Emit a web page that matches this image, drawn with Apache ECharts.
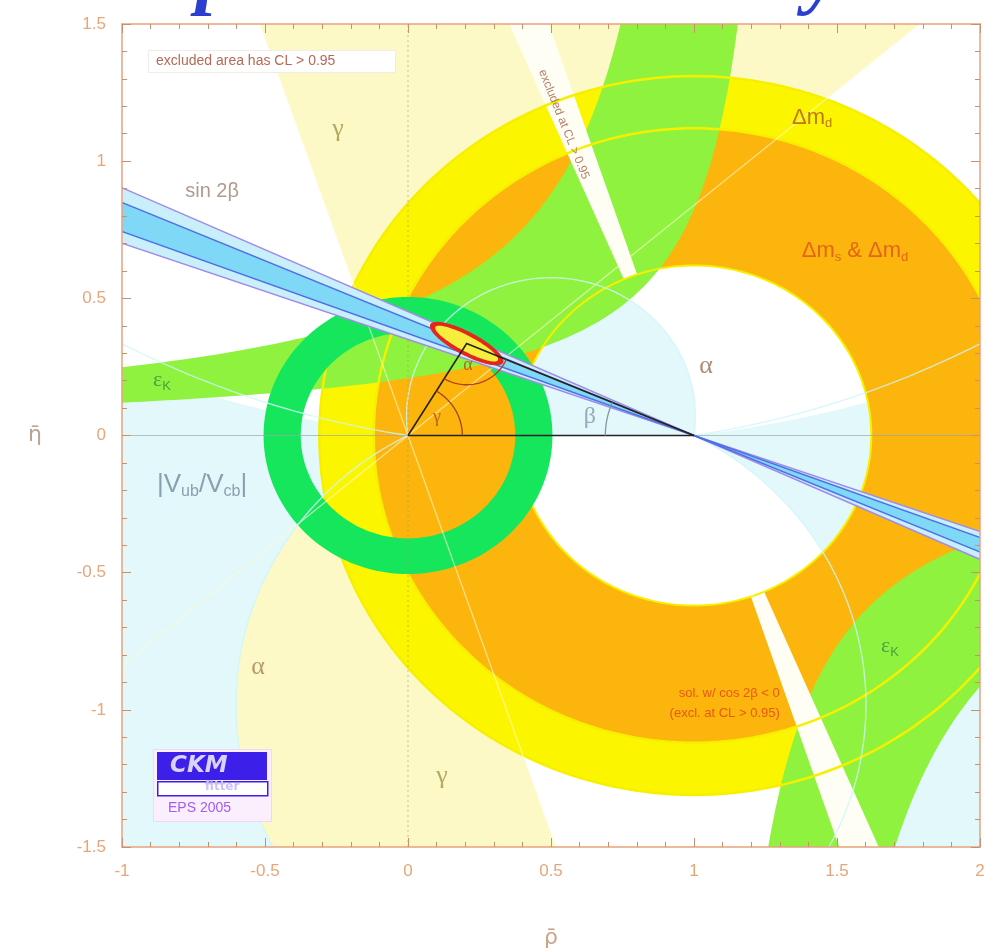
<!DOCTYPE html>
<html>
<head>
<meta charset="utf-8">
<title>CKM unitarity triangle</title>
<script src="https://cdn.jsdelivr.net/npm/echarts/dist/echarts.min.js"></script>
<style>
html,body{margin:0;padding:0;background:#fff;}
#chart{width:996px;height:948px;}
</style>
</head>
<body>
<div id="chart"></div>
<script>
// ---------- constraints in the (rho-bar, eta-bar) plane ----------
const rhoRange = [-1, 2];
const etaRange = [-1.5, 1.5];
const tickStep = 0.5;

// Delta m_d and Delta m_s & Delta m_d rings around (1,0): [inner, outer]
const dmdRing = [1.12, 1.31];
const dmsRing = [0.62, 1.12];
// |Vub/Vcb| ring around (0,0)
const vubRing = [0.375, 0.505];
// gamma wedges seen from (0,0), degrees
const gammaWedges = [[40, 109], [220, 289]];
// alpha bands (apex angle, degrees) above and below the rho axis
const alphaBandsUp = [[0, 7], [82, 180]];
const alphaBandsDown = [[0, 27]];
// sin 2beta: beta bounds in degrees (2s low, 1s low, 1s high, 2s high)
const betaBounds = [19.3, 20.4, 23.0, 24.3];
// cos 2beta < 0 solution, direction from (1,0), degrees
const betaPrimeWedge = [108.7, 113.3];
// epsilon_K band edges, eta = k / (rho0 - rho): [rho0, k]
const epsKUpArm = [[1.09, 0.52], [1.34, 0.28]];
const epsKDownArm = [[1.008, 0.377], [1.238, 0.697]];
// contour lines of the gamma and alpha constraints
const gammaLines = [40, 109, 220, 289];
const alphaLinesUp = [9, 82];
const alphaLinesDown = [27];
// global fit
const apex = [0.205, 0.335];
const fitOuter = [0.145, 0.042];
const fitInner = [0.125, 0.028];
const fitTilt = -29;

// ---------- geometry helpers (data space) ----------
const D2R = Math.PI / 180;
function ray(o, deg, r) { return [o[0] + r * Math.cos(deg * D2R), o[1] + r * Math.sin(deg * D2R)]; }
function arcPts(o, r, a0, a1, n) {
  const pts = [];
  for (let i = 0; i <= n; i++) pts.push(ray(o, a0 + (a1 - a0) * i / n, r));
  return pts;
}
function wedge(o, a0, a1, r0, r1) {
  if (!r0) return [o].concat(arcPts(o, r1, a0, a1, 40));
  return arcPts(o, r0, a0, a1, 40).concat(arcPts(o, r1, a1, a0, 40));
}
// boundary of constant apex angle t (deg) from (0,0) to (1,0), side s = +1 / -1
function alphaArc(t, s) {
  if (t <= 0) return [[0, 0], [-20, 0], [-20, 20 * s], [20, 20 * s], [20, 0], [1, 0]];
  if (t >= 180) return [[0, 0], [1, 0]];
  const tr = t * D2R, cy = s * 0.5 / Math.tan(tr), r = 0.5 / Math.sin(tr);
  let f0 = Math.atan2(-cy, -0.5), f1 = Math.atan2(-cy, 0.5);
  if (s > 0) { while (f1 >= f0) f1 -= 2 * Math.PI; } else { while (f1 <= f0) f1 += 2 * Math.PI; }
  const pts = [], n = 240;
  for (let i = 0; i <= n; i++) {
    const f = f0 + (f1 - f0) * i / n;
    pts.push([0.5 + r * Math.cos(f), cy + r * Math.sin(f)]);
  }
  return pts;
}
function alphaRegion(band, s) {
  return alphaArc(band[0], s).concat(alphaArc(band[1], s).slice().reverse());
}
function epsUpper(h, etaLo, etaHi) {
  const pts = [], n = 160;
  for (let i = 0; i <= n; i++) {
    const e = etaLo * Math.pow(etaHi / etaLo, i / n);
    pts.push([h[0] - h[1] / e, e]);
  }
  return pts;
}
function epsLower(h, etaLo, etaHi) {
  const pts = [], n = 160;
  for (let i = 0; i <= n; i++) {
    const e = etaLo * Math.pow(etaHi / etaLo, i / n);
    pts.push([h[0] + h[1] / e, -e]);
  }
  return pts;
}
function ellipse(c, ab, tilt) {
  const pts = [], ct = Math.cos(tilt * D2R), st = Math.sin(tilt * D2R);
  for (let i = 0; i <= 120; i++) {
    const t = 2 * Math.PI * i / 120, x = ab[0] * Math.cos(t), y = ab[1] * Math.sin(t);
    pts.push([c[0] + x * ct - y * st, c[1] + x * st + y * ct]);
  }
  return pts;
}

// ---------- element builders (through the axes) ----------
function poly(api, pts, fill) {
  return { type: 'polygon', shape: { points: pts.map(p => api.coord(p)) }, style: { fill: fill } };
}
function line(api, pts, stroke, w, dash) {
  return { type: 'polyline', shape: { points: pts.map(p => api.coord(p)) },
    style: { stroke: stroke, lineWidth: w, fill: 'none', lineDash: dash || null } };
}
function ring(api, o, r0, r1, fill) {
  let d = '';
  [arcPts(o, r1, 0, 360, 200), arcPts(o, r0, 360, 0, 200)].forEach(rg => {
    rg.forEach((p, i) => { const c = api.coord(p); d += (i ? 'L' : 'M') + c[0].toFixed(2) + ' ' + c[1].toFixed(2); });
    d += 'Z';
  });
  return { type: 'path', shape: { pathData: d }, style: { fill: fill } };
}
function layer(name, z, build) {
  return {
    name: name, type: 'custom', coordinateSystem: 'cartesian2d', xAxisIndex: 0, yAxisIndex: 0,
    clip: true, silent: true, z: z, data: [[0, 0]],
    renderItem: function (params, api) { return { type: 'group', children: build(api) }; }
  };
}

const O = [0, 0], B = [1, 0];
const series = [
  layer('gamma', 1, api => gammaWedges.map(w => poly(api, wedge(O, w[0], w[1], 0, 6), '#fcf9c6'))),
  layer('alpha', 2, api => alphaBandsUp.map(b => poly(api, alphaRegion(b, 1), '#e3f8fb'))
      .concat(alphaBandsDown.map(b => poly(api, alphaRegion(b, -1), '#e3f8fb')))),
  layer('dmd', 3, api => [ring(api, B, dmdRing[0], dmdRing[1], '#fbf500')]),
  layer('dms', 4, api => [ring(api, B, dmsRing[0], dmsRing[1], '#fcb50c')]),
  layer('epsK', 5, api => {
    const a = epsKUpArm[0], b = epsKUpArm[1];
    const up = epsUpper(a, a[1] / (a[0] + 1.3), 2.2).concat(epsUpper(b, b[1] / (b[0] + 1.3), 2.2).reverse());
    const c = epsKDownArm[0], d = epsKDownArm[1];
    const dn = epsLower(c, c[1] / (2.4 - c[0]), 2.2).reverse().concat(epsLower(d, d[1] / (2.4 - d[0]), 2.2));
    return [poly(api, up, '#8ff23e'), poly(api, dn, '#8ff23e')];
  }),
  layer('cos2beta', 6, api => [
    poly(api, wedge(B, betaPrimeWedge[0], betaPrimeWedge[1], dmsRing[0], 4), '#fffef4'),
    poly(api, wedge(B, betaPrimeWedge[0] + 180, betaPrimeWedge[1] + 180, dmsRing[0], 4), '#fffef4')
  ]),
  layer('dmdEdges', 7, api => [
    line(api, arcPts(B, dmdRing[1], 0, 360, 240), '#f6f000', 2.5),
    line(api, arcPts(B, dmdRing[0], 0, 360, 240), '#f6f000', 2.5),
    line(api, arcPts(B, dmsRing[0], 0, 360, 240), '#f6f000', 2)
  ]),
  layer('vub', 8, api => [ring(api, O, vubRing[0], vubRing[1], '#16e65c')]),
  layer('contours', 9, api => gammaLines.map(g => line(api, [O, ray(O, g, 5)], 'rgba(255,250,210,0.6)', 1.3))
      .concat(alphaLinesUp.map(t => line(api, alphaArc(t, 1), 'rgba(205,246,250,0.8)', 1.4)))
      .concat(alphaLinesDown.map(t => line(api, alphaArc(t, -1), 'rgba(205,246,250,0.8)', 1.4)))
      .concat([
        line(api, [[-1, 0], [2, 0]], 'rgba(150,170,170,0.7)', 1),
        line(api, [[0, -1.5], [0, 1.5]], 'rgba(160,150,110,0.6)', 1, [2, 3])
      ])),
  layer('sin2beta', 10, api => {
    const els = [];
    [0, 180].forEach(off => {
      const dir = a => 180 - a + off;
      els.push(poly(api, wedge(B, dir(betaBounds[3]), dir(betaBounds[0]), 0, 4), '#c9effa'));
      els.push(poly(api, wedge(B, dir(betaBounds[2]), dir(betaBounds[1]), 0, 4), '#7fd8f5'));
      [0, 3].forEach(i => els.push(line(api, [B, ray(B, dir(betaBounds[i]), 4)], '#a08ce8', 1.4)));
      [1, 2].forEach(i => els.push(line(api, [B, ray(B, dir(betaBounds[i]), 4)], '#4f6fe6', 1.4)));
    });
    return els;
  }),
  layer('triangle', 11, api => {
    const ga = Math.atan2(apex[1], apex[0]) / D2R;
    const be = Math.atan2(apex[1], 1 - apex[0]) / D2R;
    return [
      poly(api, ellipse(apex, fitOuter, fitTilt), '#e5261c'),
      poly(api, ellipse(apex, fitInner, fitTilt), '#f5ee3c'),
      line(api, [O, B], '#222', 1.6),
      line(api, [O, apex, B], '#2a2218', 1.6),
      line(api, arcPts(O, 0.19, 0, ga, 40), '#a4401c', 1.3),
      line(api, arcPts(apex, 0.15, 180 + ga, 360 - be, 40), '#b0401c', 1.3),
      line(api, arcPts(B, 0.31, 180 - be, 180, 30), '#7d98a6', 1.3)
    ];
  })
];

// ---------- text annotations (placed in data coordinates) ----------
const serif = "'Liberation Serif', 'DejaVu Serif', serif";
const sans = "'Liberation Sans', Arial, sans-serif";
const notes = [
  { f: 'γ', at: [-0.245, 1.116], c: '#a39446', s: 26, ff: serif },
  { f: 'γ', at: [0.119, -1.243], c: '#a39446', s: 26, ff: serif },
  { f: 'α', at: [-0.524, -0.846], c: '#a58356', s: 26, ff: serif },
  { f: 'α', at: [1.042, 0.252], c: '#9a6e52', s: 26, ff: serif },
  { f: 'sin 2β', at: [-0.685, 0.89], c: '#9b8274', s: 20, ff: sans },
  { f: '{m|Δm}{s|d}', at: [1.413, 1.159], c: '#b0561e', s: 22, ff: sans },
  { f: '{m|Δm}{s|s}{m| & Δm}{s|d}', at: [1.563, 0.671], c: '#e0501a', s: 22, ff: sans },
  { f: '{m|ε}{s|K}', at: [-0.86, 0.2], c: '#3d8a45', s: 22, ff: serif },
  { f: '{m|ε}{s|K}', at: [1.685, -0.769], c: '#3d8a45', s: 22, ff: serif },
  { f: '{m||V}{s|ub}{m|/V}{s|cb}{m||}', at: [-0.72, -0.179], c: '#6e8c9c', s: 26, ff: sans },
  { f: 'β', at: [0.636, 0.069], c: '#7d97a5', s: 24, ff: serif },
  { f: 'γ', at: [0.101, 0.066], c: '#a54a20', s: 18, ff: serif },
  { f: 'α', at: [0.21, 0.255], c: '#a54a20', s: 18, ff: serif },
  { f: 'sol. w/ cos 2β < 0\n(excl. at CL > 0.95)', at: [1.30, -0.977], c: '#e4401a', s: 13, ff: sans, align: 'right' },
  { f: 'excluded at CL > 0.95', at: [0.545, 1.134], c: '#a0604a', s: 12, ff: sans, rot: -68 }
];
series.push({
  name: 'labels', type: 'scatter', xAxisIndex: 0, yAxisIndex: 0, silent: true, z: 20,
  symbol: 'circle', symbolSize: 1, itemStyle: { color: 'rgba(0,0,0,0)' },
  data: notes.map(n => ({
    value: n.at,
    label: {
      show: true, position: 'inside', formatter: n.f, color: n.c, fontSize: n.s, fontFamily: n.ff,
      align: n.align || 'center', verticalAlign: 'middle', rotate: n.rot || 0, lineHeight: n.s + 7,
      rich: {
        m: { fontSize: n.s, color: n.c, fontFamily: n.ff, verticalAlign: 'middle' },
        s: { fontSize: Math.round(n.s * 0.6), color: n.c, fontFamily: sans, verticalAlign: 'middle', padding: [Math.round(n.s * 0.55), 0, 0, 0] }
      }
    }
  }))
});

const axisColor = '#e8a27e';
const tickStyle = { color: '#c8906c', width: 1 };
const nameFont = "'DejaVu Sans', sans-serif";
function xAx(pos, labels) {
  return {
    type: 'value', position: pos, min: rhoRange[0], max: rhoRange[1], interval: tickStep, z: 30,
    axisLine: { show: true, onZero: false, lineStyle: { color: axisColor, width: 1.5 } },
    axisTick: { show: true, inside: true, length: 9, lineStyle: tickStyle },
    minorTick: { show: true, splitNumber: 5, length: 5, lineStyle: tickStyle },
    axisLabel: { show: labels, color: '#e6a679', fontSize: 17, margin: 16, fontFamily: sans },
    splitLine: { show: false },
    name: labels ? 'ρ̄' : '', nameLocation: 'middle', nameGap: 80,
    nameTextStyle: { color: '#c9a488', fontSize: 22, fontFamily: nameFont }
  };
}
function yAx(pos, labels) {
  return {
    type: 'value', position: pos, min: etaRange[0], max: etaRange[1], interval: tickStep, z: 30,
    axisLine: { show: true, onZero: false, lineStyle: { color: axisColor, width: 1.5 } },
    axisTick: { show: true, inside: true, length: 9, lineStyle: tickStyle },
    minorTick: { show: true, splitNumber: 5, length: 5, lineStyle: tickStyle },
    axisLabel: { show: labels, color: '#e6a679', fontSize: 17, margin: 16, fontFamily: sans },
    splitLine: { show: false },
    name: labels ? 'η̄' : '', nameLocation: 'middle', nameGap: 80, nameRotate: 0,
    nameTextStyle: { color: '#b9a496', fontSize: 22, fontFamily: nameFont }
  };
}

const chart = echarts.init(document.getElementById('chart'), null, { renderer: 'canvas' });
chart.setOption({
  animation: false,
  backgroundColor: '#ffffff',
  grid: { left: 122, right: 16, top: 24, bottom: 101, containLabel: false, outerBoundsMode: 'none' },
  xAxis: [xAx('bottom', true), xAx('top', false)],
  yAxis: [yAx('left', true), yAx('right', false)],
  series: series,
  graphic: [
    // slide title running off the top edge
    { type: 'text', left: 105, top: -60, z: 40, silent: true,
      style: { text: 'Impressive consistency', fill: '#2b3fce', font: "italic bold 78px 'Liberation Serif', serif" } },
    // legend note
    { type: 'rect', left: 148, top: 50, z: 40, silent: true, shape: { width: 247, height: 22 },
      style: { fill: '#ffffff', stroke: '#f3ece6', lineWidth: 1 } },
    { type: 'text', left: 156, top: 54, z: 41, silent: true,
      style: { text: 'excluded area has CL > 0.95', fill: '#b46a56', font: "14px 'Liberation Sans', Arial, sans-serif" } },
    // CKMfitter logo
    { type: 'rect', left: 153, top: 749, z: 40, silent: true, shape: { width: 118, height: 72 },
      style: { fill: '#fbeefd', stroke: '#f2d6fa', lineWidth: 1 } },
    { type: 'rect', left: 157, top: 752, z: 41, silent: true, shape: { width: 110, height: 28 },
      style: { fill: '#3d1fea' } },
    { type: 'text', left: 170, top: 755, z: 42, silent: true,
      style: { text: 'CKM', fill: '#d9d2ff', font: "italic bold 23px 'DejaVu Sans', sans-serif" } },
    { type: 'rect', left: 157, top: 781, z: 41, silent: true, shape: { width: 110, height: 14 },
      style: { fill: '#ffffff', stroke: '#3d1fea', lineWidth: 1.5 } },
    { type: 'text', left: 205, top: 781, z: 42, silent: true,
      style: { text: 'fitter', fill: '#c9c2f6', font: "bold 12px 'DejaVu Sans', sans-serif" } },
    { type: 'text', left: 168, top: 801, z: 42, silent: true,
      style: { text: 'EPS 2005', fill: '#a45cf2', font: "14px 'Liberation Sans', Arial, sans-serif" } }
  ]
});
</script>
</body>
</html>
